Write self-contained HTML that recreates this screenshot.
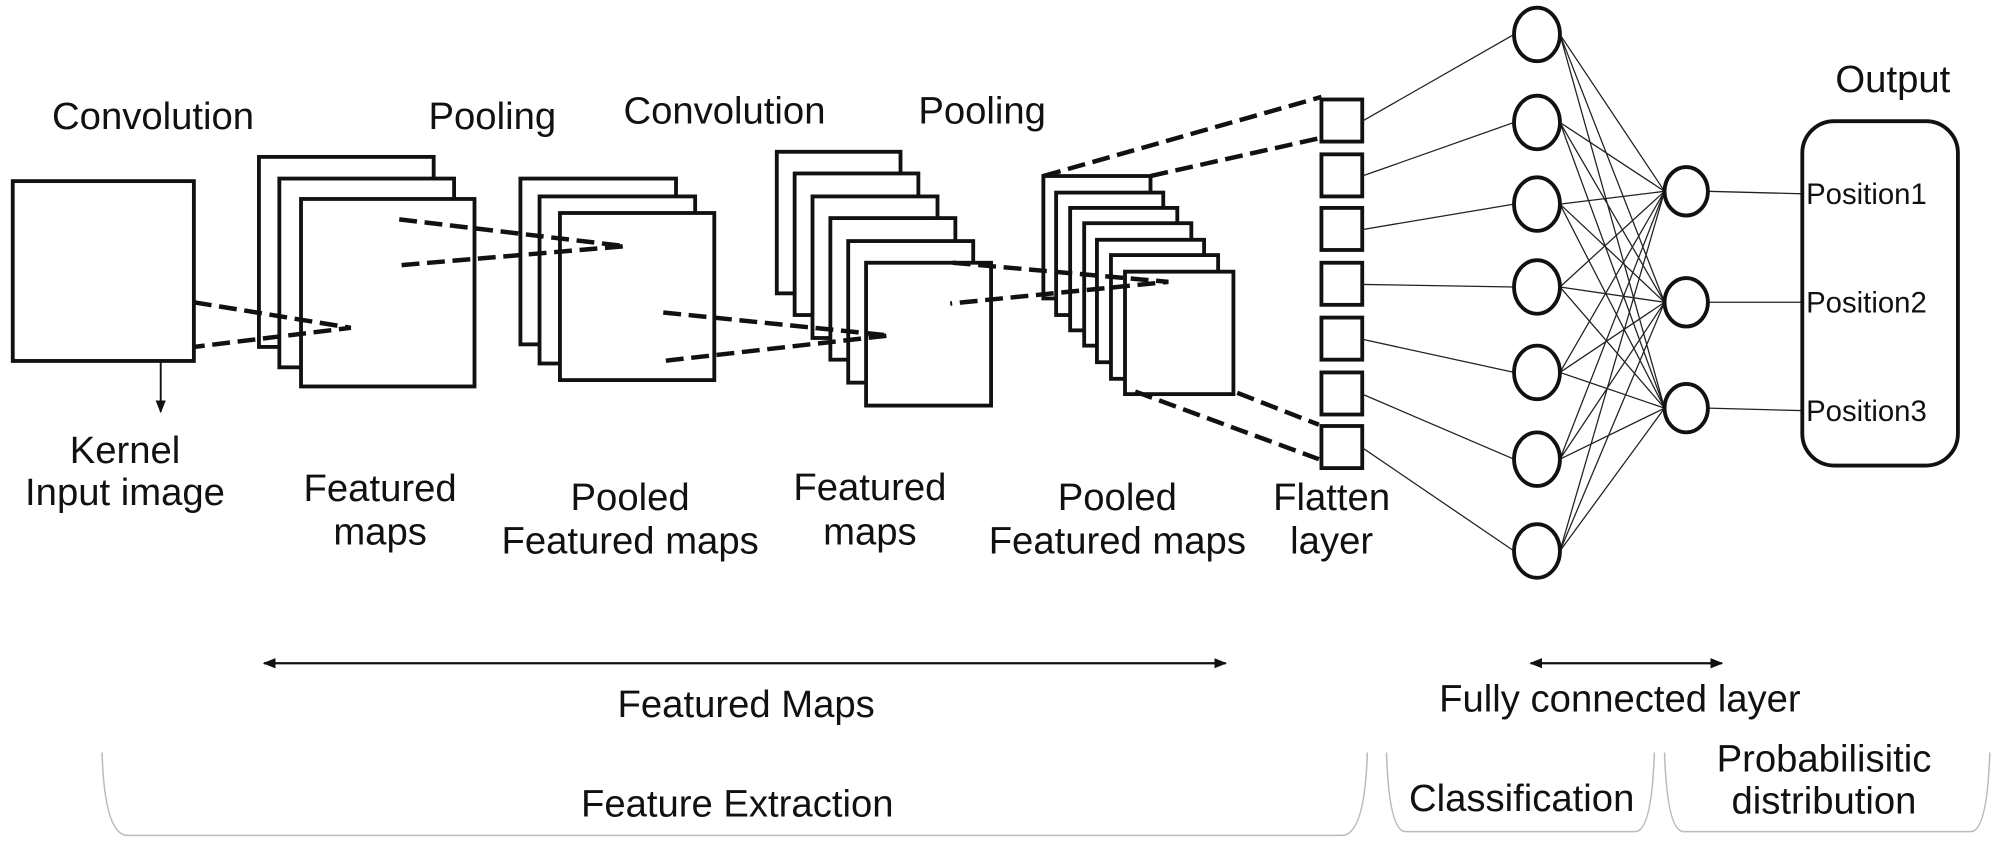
<!DOCTYPE html>
<html><head><meta charset="utf-8"><style>
html,body{margin:0;padding:0;background:#fff;width:2000px;height:852px;overflow:hidden}
svg{display:block}
text{font-family:"Liberation Sans",Arial,sans-serif;fill:#111}
</style></head><body>
<svg width="2000" height="852" viewBox="0 0 1568 668" preserveAspectRatio="none">
<defs>
<marker id="ah" markerWidth="10" markerHeight="8" refX="9" refY="4" orient="auto-start-reverse" markerUnits="userSpaceOnUse"><path d="M0,0 L10,4 L0,8 z" fill="#111"/></marker>
</defs>
<g font-size="30" text-anchor="middle">
<text x="120" y="101">Convolution</text>
<text x="386" y="101">Pooling</text>
<text x="568" y="97">Convolution</text>
<text x="770" y="97">Pooling</text>
<text x="1484" y="72">Output</text>
<text x="98" y="363">Kernel</text><text x="98" y="396">Input image</text>
<text x="298" y="393">Featured</text><text x="298" y="427">maps</text>
<text x="494" y="400">Pooled</text><text x="494" y="434">Featured maps</text>
<text x="682" y="392">Featured</text><text x="682" y="427">maps</text>
<text x="876" y="400">Pooled</text><text x="876" y="434">Featured maps</text>
<text x="1044" y="400">Flatten</text><text x="1044" y="434">layer</text>
<text x="585" y="562">Featured Maps</text>
<text x="1270" y="558">Fully connected layer</text>
<text x="578" y="640">Feature Extraction</text>
<text x="1193" y="636">Classification</text>
<text x="1430" y="605">Probabilisitic</text>
<text x="1430" y="638">distribution</text>
</g>
<g fill="#fff" stroke="#111" stroke-width="3">
<rect x="10" y="142" width="142" height="141"/>
<rect x="203" y="123" width="137" height="149"/>
<rect x="219" y="140" width="137" height="148"/>
<rect x="236" y="156" width="136" height="147"/>
<rect x="408" y="140" width="122" height="130"/>
<rect x="423" y="154" width="122" height="131"/>
<rect x="439" y="167" width="121" height="131"/>
<rect x="609" y="119" width="97" height="111"/>
<rect x="623" y="136" width="97" height="111"/>
<rect x="637" y="154" width="98" height="111"/>
<rect x="651" y="171" width="98" height="111"/>
<rect x="665" y="189" width="98" height="111"/>
<rect x="679" y="206" width="98" height="112"/>
<rect x="818" y="138" width="84" height="96"/>
<rect x="828" y="151" width="84" height="96"/>
<rect x="839" y="163" width="84" height="96"/>
<rect x="850" y="175" width="84" height="96"/>
<rect x="860" y="188" width="84" height="96"/>
<rect x="871" y="200" width="84" height="97"/>
<rect x="882" y="213" width="85" height="96"/>
<rect x="1036" y="78" width="32" height="33"/>
<rect x="1036" y="121" width="32" height="33"/>
<rect x="1036" y="163" width="32" height="33"/>
<rect x="1036" y="206" width="32" height="33"/>
<rect x="1036" y="249" width="32" height="33"/>
<rect x="1036" y="292" width="32" height="33"/>
<rect x="1036" y="334" width="32" height="33"/>
</g>
<g stroke="#111" stroke-width="3.5" stroke-dasharray="14 6" fill="none">
<path d="M152,237 L275,257 L152,272"/>
<path d="M313,172 L490,193 L313,208"/>
<path d="M520,245 L697,263 L520,283"/>
<path d="M747,206 L916,221 L745,238"/>
<path d="M818,138 L1036,76"/>
<path d="M902,138 L1036,108"/>
<path d="M890,307 L1034,360"/>
<path d="M970,308 L1034,333"/>
</g>
<line x1="126" y1="283" x2="126" y2="323" stroke="#111" stroke-width="1.5" marker-end="url(#ah)"/>
<g stroke="#222" stroke-width="1" fill="none">
<line x1="1068" y1="95" x2="1187" y2="27"/>
<line x1="1068" y1="138" x2="1187" y2="96"/>
<line x1="1068" y1="180" x2="1187" y2="160"/>
<line x1="1068" y1="223" x2="1187" y2="225"/>
<line x1="1068" y1="266" x2="1187" y2="292"/>
<line x1="1068" y1="309" x2="1187" y2="360"/>
<line x1="1068" y1="351" x2="1187" y2="432"/>
<path d="M1223,27 L1305,150 M1223,27 L1305,237 M1223,27 L1305,320
M1223,96 L1305,150 M1223,96 L1305,237 M1223,96 L1305,320
M1223,160 L1305,150 M1223,160 L1305,237 M1223,160 L1305,320
M1223,225 L1305,150 M1223,225 L1305,237 M1223,225 L1305,320
M1223,292 L1305,150 M1223,292 L1305,237 M1223,292 L1305,320
M1223,360 L1305,150 M1223,360 L1305,237 M1223,360 L1305,320
M1223,432 L1305,150 M1223,432 L1305,237 M1223,432 L1305,320"/>
<line x1="1339" y1="150" x2="1415" y2="152"/>
<line x1="1339" y1="237" x2="1415" y2="237"/>
<line x1="1339" y1="320" x2="1415" y2="322"/>
</g>
<g fill="#fff" stroke="#111" stroke-width="3">
<ellipse cx="1205" cy="27" rx="18" ry="21"/>
<ellipse cx="1205" cy="96" rx="18" ry="21"/>
<ellipse cx="1205" cy="160" rx="18" ry="21"/>
<ellipse cx="1205" cy="225" rx="18" ry="21"/>
<ellipse cx="1205" cy="292" rx="18" ry="21"/>
<ellipse cx="1205" cy="360" rx="18" ry="21"/>
<ellipse cx="1205" cy="432" rx="18" ry="21"/>
<ellipse cx="1322" cy="150" rx="17" ry="19"/>
<ellipse cx="1322" cy="237" rx="17" ry="19"/>
<ellipse cx="1322" cy="320" rx="17" ry="19"/>
<rect x="1413" y="95" width="122" height="270" rx="25"/>
</g>
<g font-size="23">
<text x="1416" y="160">Position1</text>
<text x="1416" y="245">Position2</text>
<text x="1416" y="330">Position3</text>
</g>
<g stroke="#111" stroke-width="1.8">
<line x1="207" y1="520" x2="961" y2="520" marker-start="url(#ah)" marker-end="url(#ah)"/>
<line x1="1200" y1="520" x2="1350" y2="520" marker-start="url(#ah)" marker-end="url(#ah)"/>
</g>
<g stroke="#bbb" stroke-width="1.2" fill="none">
<path d="M80,590 Q82,655 100,655 L1052,655 Q1070,655 1072,590"/>
<path d="M1087,590 Q1089,652 1102,652 L1282,652 Q1295,652 1297,590"/>
<path d="M1305,590 Q1307,652 1320,652 L1545,652 Q1558,652 1560,590"/>
</g>
</svg>
</body></html>
